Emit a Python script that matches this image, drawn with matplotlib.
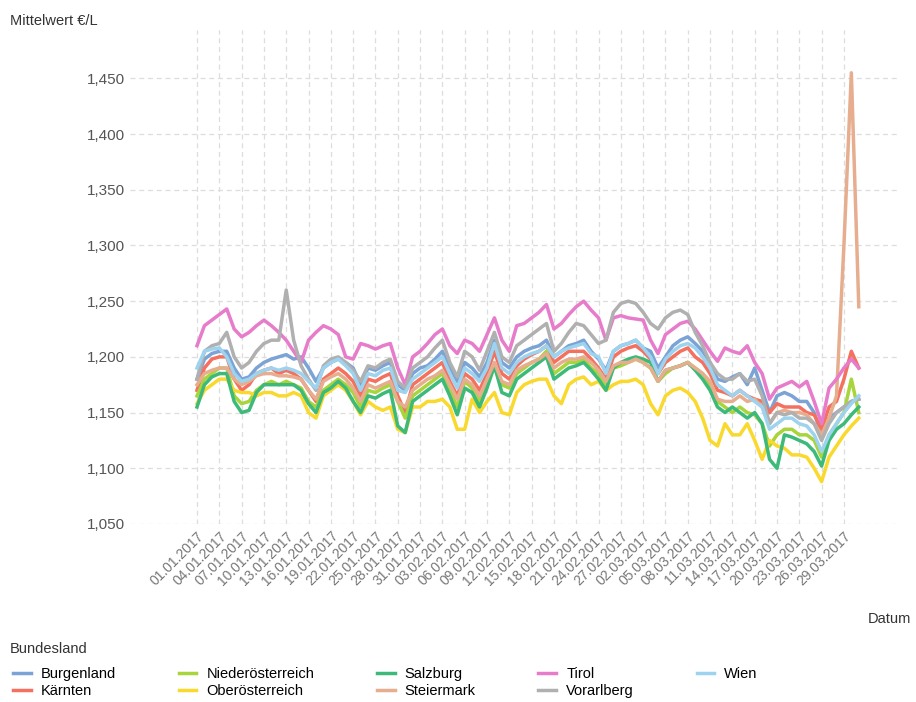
import matplotlib.pyplot as plt
import numpy as np
import datetime as dt

plt.rcParams['font.family'] = ['Liberation Sans', 'DejaVu Sans']

# daily mean price in thousandths of EUR per litre, 01.01.2017 - 31.03.2017
burgenland = [1180,1198,1203,1205,1205,1190,1180,1182,1190,1195,
              1198,1200,1202,1198,1200,1190,1178,1190,1195,1198,
              1195,1190,1175,1190,1188,1192,1195,1175,1170,1185,
              1190,1192,1198,1205,1190,1178,1195,1190,1182,1195,
              1215,1195,1190,1200,1205,1208,1210,1215,1200,1205,
              1210,1212,1215,1205,1198,1188,1205,1210,1212,1215,
              1208,1205,1190,1200,1210,1215,1218,1212,1205,1195,
              1180,1178,1182,1185,1175,1190,1170,1150,1165,1168,
              1165,1160,1160,1150,1130,1145,1150,1155,1160,1162]
kaernten = [1170,1190,1198,1200,1200,1180,1170,1175,1185,1188,
            1190,1185,1188,1185,1180,1170,1160,1180,1185,1190,
            1185,1178,1165,1180,1178,1182,1185,1165,1150,1175,
            1180,1185,1190,1195,1178,1165,1185,1180,1170,1185,
            1205,1185,1180,1192,1198,1202,1205,1210,1195,1200,
            1205,1205,1205,1198,1190,1180,1200,1205,1208,1210,
            1205,1198,1185,1195,1200,1205,1208,1200,1195,1185,
            1170,1168,1165,1170,1165,1162,1160,1150,1158,1155,
            1155,1155,1150,1148,1135,1155,1160,1180,1205,1190]
niederoe = [1165,1180,1185,1190,1190,1165,1158,1160,1170,1175,
            1178,1175,1178,1175,1172,1160,1155,1170,1175,1180,
            1175,1168,1155,1170,1168,1172,1175,1160,1145,1165,
            1170,1175,1180,1185,1170,1155,1178,1172,1160,1178,
            1190,1175,1172,1185,1190,1195,1198,1205,1185,1190,
            1195,1195,1198,1190,1185,1175,1190,1192,1195,1198,
            1195,1190,1178,1185,1190,1192,1195,1190,1185,1175,
            1160,1155,1150,1155,1150,1148,1140,1120,1130,1135,
            1135,1130,1130,1125,1110,1130,1140,1150,1180,1150]
oberoe = [1158,1170,1175,1180,1180,1170,1168,1168,1165,1168,
          1168,1165,1165,1168,1165,1150,1145,1165,1170,1175,
          1170,1160,1148,1160,1155,1152,1155,1135,1132,1155,
          1155,1160,1160,1162,1155,1135,1135,1162,1150,1160,
          1168,1150,1148,1168,1175,1178,1180,1180,1165,1158,
          1175,1180,1182,1175,1178,1170,1175,1178,1178,1180,
          1175,1158,1148,1165,1170,1172,1168,1160,1145,1125,
          1120,1140,1130,1130,1140,1125,1108,1125,1120,1118,
          1112,1112,1110,1100,1088,1110,1120,1130,1138,1145]
salzburg = [1155,1175,1182,1185,1185,1160,1150,1152,1168,1175,
            1175,1175,1175,1175,1170,1158,1150,1168,1172,1178,
            1172,1160,1150,1165,1163,1167,1170,1138,1132,1160,
            1165,1170,1175,1180,1165,1148,1172,1168,1155,1172,
            1192,1168,1165,1180,1185,1190,1195,1200,1180,1185,
            1190,1192,1195,1188,1180,1170,1190,1195,1198,1200,
            1198,1195,1178,1188,1190,1192,1195,1188,1180,1170,
            1155,1150,1155,1150,1145,1150,1140,1108,1100,1130,
            1128,1125,1122,1115,1102,1125,1135,1140,1148,1155]
steiermark = [1175,1185,1188,1190,1190,1180,1175,1178,1183,1185,
              1185,1183,1183,1182,1180,1170,1162,1178,1182,1185,
              1180,1172,1160,1175,1172,1175,1178,1160,1155,1170,
              1175,1180,1183,1188,1175,1162,1180,1175,1165,1180,
              1195,1178,1175,1188,1192,1195,1198,1203,1190,1195,
              1198,1198,1200,1195,1188,1178,1192,1195,1195,1198,
              1195,1190,1178,1188,1190,1192,1195,1190,1185,1178,
              1162,1160,1160,1165,1160,1162,1155,1140,1150,1152,
              1150,1150,1148,1140,1130,1145,1165,1300,1455,1245]
tirol = [1210,1228,1233,1238,1243,1225,1218,1222,1228,1233,
         1228,1222,1215,1205,1195,1215,1222,1228,1225,1220,
         1200,1198,1212,1210,1207,1210,1212,1190,1175,1200,
         1205,1212,1220,1225,1210,1203,1215,1212,1205,1220,
         1235,1215,1205,1228,1230,1235,1240,1247,1225,1230,
         1238,1245,1250,1242,1235,1215,1235,1237,1235,1234,
         1233,1215,1203,1220,1225,1230,1232,1225,1215,1205,
         1196,1208,1205,1203,1210,1195,1185,1162,1172,1175,
         1178,1173,1178,1160,1140,1172,1180,1190,1198,1190]
vorarlberg = [1180,1205,1210,1212,1222,1200,1190,1195,1205,1212,
              1215,1215,1260,1215,1192,1180,1170,1192,1198,1200,
              1195,1188,1178,1192,1190,1195,1198,1178,1172,1190,
              1195,1200,1208,1215,1195,1182,1205,1200,1188,1205,
              1222,1200,1195,1210,1215,1220,1225,1230,1205,1212,
              1222,1230,1228,1220,1212,1215,1240,1248,1250,1248,
              1240,1230,1225,1235,1240,1242,1238,1222,1210,1195,
              1185,1180,1180,1185,1178,1180,1165,1140,1150,1148,
              1150,1145,1145,1140,1125,1140,1150,1155,1160,1162]
wien = [1190,1205,1207,1208,1200,1185,1178,1180,1185,1188,
        1190,1188,1190,1188,1185,1178,1172,1190,1195,1198,
        1192,1185,1170,1185,1183,1188,1190,1170,1168,1180,
        1185,1190,1195,1200,1185,1172,1190,1185,1178,1190,
        1212,1190,1185,1195,1200,1203,1205,1210,1200,1205,
        1208,1210,1212,1203,1200,1185,1205,1210,1212,1215,
        1208,1200,1185,1198,1205,1210,1212,1208,1200,1190,
        1175,1170,1165,1170,1165,1160,1155,1135,1140,1145,
        1145,1140,1138,1130,1115,1130,1140,1150,1158,1165]

names = ["Burgenland", "Kärnten", "Niederösterreich", "Oberösterreich", "Salzburg",
         "Steiermark", "Tirol", "Vorarlberg", "Wien"]
series = [burgenland, kaernten, niederoe, oberoe, salzburg, steiermark, tirol, vorarlberg, wien]
colors = ["#7ba3d6", "#f4705f", "#a8d43c", "#f9d92e", "#3dba7a",
          "#e6ae8e", "#e77ccb", "#b0b0b0", "#9dd3ee"]

start = dt.date(2017, 1, 1)
days = np.arange(len(tirol))
tick_days = days[::3]
tick_labels = [(start + dt.timedelta(days=int(d))).strftime("%d.%m.%Y") for d in tick_days]

fig = plt.figure(figsize=(9.16, 7.02), dpi=100)
ax = fig.add_axes([0.142, 0.2536, 0.841, 0.703])

for name, vals, c in zip(names, series, colors):
    ax.plot(days, np.array(vals) / 1000, color=c, lw=2.5, label=name)

ax.set_xlim(-9, 94.6)
ax.set_ylim(1.05, 1.493)
yt = np.arange(1.05, 1.451, 0.05)
ax.set_yticks(yt)
ax.set_yticklabels([f"{v:.3f}".replace(".", ",") for v in yt])
ax.set_xticks(tick_days)
ax.set_xticklabels(tick_labels, rotation=45, ha="right", rotation_mode="anchor")
ax.tick_params(length=0, labelsize=11, colors="#555555")
ax.tick_params(axis="x", labelsize=10, colors="#777777")
ax.grid(True, ls=(0, (4, 3)), color="#dddddd", lw=0.9)
for s in ax.spines.values():
    s.set_visible(False)

fig.text(0.011, 0.965, "Mittelwert €/L", fontsize=10.5, color="#333333")
fig.text(0.947, 0.112, "Datum", fontsize=10.5, color="#333333")
fig.text(0.011, 0.07, "Bundesland", fontsize=10.5, color="#333333")
fig.legend(loc="upper left", bbox_to_anchor=(0.0, 0.068), ncol=5, frameon=False,
           fontsize=10.5, handlelength=1.2, columnspacing=4.3, labelspacing=0.2,
           handletextpad=0.7)

fig.savefig("out.png", dpi=100)
